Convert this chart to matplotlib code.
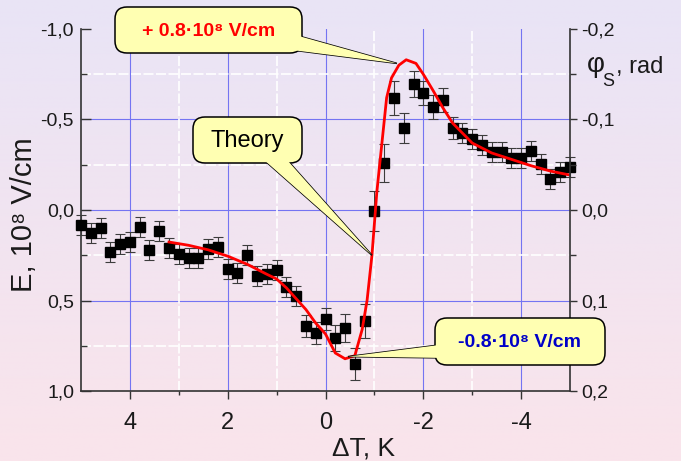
import numpy as np
import matplotlib
matplotlib.use('Agg')
import matplotlib.pyplot as plt
from matplotlib.patches import FancyBboxPatch, Polygon

plt.rcParams['font.family'] = ['Liberation Sans', 'DejaVu Sans']

# ---------------- data ----------------
dT = [5.0, 4.8, 4.6, 4.4, 4.2, 4.0, 3.8, 3.6, 3.4, 3.2, 3.0, 2.8, 2.6, 2.4, 2.2,
      2.0, 1.8, 1.6, 1.4, 1.2, 1.0, 0.8, 0.6, 0.4, 0.2, 0.0, -0.2, -0.4, -0.6,
      -0.8, -1.0, -1.2, -1.4, -1.6, -1.8, -2.0, -2.2, -2.4, -2.6, -2.8, -3.0,
      -3.2, -3.4, -3.6, -3.8, -4.0, -4.2, -4.4, -4.6, -4.8, -5.0]
E_exp = [0.083, 0.127, 0.100, 0.232, 0.188, 0.177, 0.094, 0.221, 0.116, 0.210,
         0.243, 0.265, 0.265, 0.215, 0.204, 0.326, 0.348, 0.249, 0.365, 0.354,
         0.331, 0.425, 0.475, 0.641, 0.680, 0.602, 0.707, 0.652, 0.851, 0.613,
         0.006, -0.260, -0.619, -0.453, -0.696, -0.646, -0.569, -0.608, -0.453,
         -0.425, -0.392, -0.359, -0.320, -0.320, -0.287, -0.287, -0.326, -0.254,
         -0.171, -0.210, -0.238]
E_err = [0.055] * 23 + [0.060, 0.060, 0.060, 0.070, 0.078, 0.090, 0.096, 0.110,
                        0.105, 0.094, 0.083, 0.074, 0.068, 0.066, 0.064, 0.060] + [0.055] * 12

dT_theory = [3.2, 2.8, 2.4, 2.0, 1.6, 1.2, 1.0, 0.8, 0.6, 0.4, 0.2, 0.0, -0.2,
             -0.4, -0.6, -0.75, -0.85, -0.95, -1.05, -1.15, -1.25, -1.35, -1.5,
             -1.65, -1.85, -2.0, -2.2, -2.4, -2.6, -2.8, -3.0, -3.4, -3.8, -4.2,
             -4.6, -5.0]
E_theory = [0.177, 0.195, 0.220, 0.255, 0.300, 0.355, 0.381, 0.430, 0.490, 0.550,
            0.625, 0.685, 0.790, 0.822, 0.805, 0.660, 0.500, 0.250, -0.100, -0.360,
            -0.620, -0.730, -0.800, -0.830, -0.810, -0.750, -0.660, -0.565, -0.480,
            -0.425, -0.370, -0.315, -0.280, -0.245, -0.215, -0.193]

x_ticks = [4, 2, 0, -2, -4]
x_ticklabels = ['4', '2', '0', '-2', '-4']
x_minor = [3, 1, -1, -3]
y_ticks = [-1.0, -0.5, 0.0, 0.5, 1.0]
y_ticklabels = ['-1,0', '-0,5', '0,0', '0,5', '1,0']
y_minor = [-0.75, -0.25, 0.25, 0.75]
phi_ticks = [-0.2, -0.1, 0.0, 0.1, 0.2]
phi_ticklabels = ['-0,2', '-0,1', '0,0', '0,1', '0,2']
phi_minor = [-0.15, -0.05, 0.05, 0.15]

callout_texts = ['+ 0.8\u00b710\u2078 V/cm', 'Theory', '-0.8\u00b710\u2078 V/cm']
callout_tips = [(-1.46, -0.81), (-0.95, 0.25), (-0.46, 0.81)]

# ---------------- figure ----------------
W, H = 681, 461
fig = plt.figure(figsize=(W / 100, H / 100), dpi=100)

bg = fig.add_axes([0, 0, 1, 1], zorder=-10)
g = np.linspace(0, 1, 256)[:, None, None]
top = np.array([233, 228, 246]) / 255
bot = np.array([250, 228, 235]) / 255
img = top[None, None, :] * (1 - g) + bot[None, None, :] * g
img = np.repeat(img, 2, axis=1)
bg.imshow(img, aspect='auto', extent=[0, 1, 0, 1], origin='upper')
bg.axis('off')

L, R, T, B = 81, 570, 29, 391
ax = fig.add_axes([L / W, 1 - B / H, (R - L) / W, (B - T) / H])
ax.set_facecolor('none')
ax.set_xlim(5, -5)
ax.set_ylim(1.0, -1.0)

grid_major = '#7474F2'
for xv in x_ticks:
    ax.axvline(xv, color=grid_major, lw=0.8, zorder=0)
for yv in y_ticks[1:-1]:
    ax.axhline(yv, color=grid_major, lw=0.8, zorder=0)
for xv in x_minor:
    ax.axvline(xv, color='white', lw=1.2, ls=(0, (6, 1.5)), zorder=0)
for yv in y_minor:
    ax.axhline(yv, color='white', lw=1.2, ls=(0, (6, 1.5)), zorder=0)

ax.errorbar(dT, E_exp, yerr=E_err, fmt='s', color='black', ms=7.8,
            ecolor='#3c3c3c', elinewidth=0.8, capsize=3.5, capthick=0.8,
            zorder=3, clip_on=False)
ax.plot(dT_theory, E_theory, color='#FF0000', lw=2.0, zorder=4)

ax.set_xticks(x_ticks)
ax.set_xticklabels(x_ticklabels)
ax.set_xticks(x_minor, minor=True)
ax.set_yticks(y_ticks)
ax.set_yticklabels(y_ticklabels)
ax.set_yticks(y_minor, minor=True)
spine_c = '#333333'
for s in ['top', 'right']:
    ax.spines[s].set_visible(False)
for s in ['left', 'bottom']:
    ax.spines[s].set_color(spine_c)
    ax.spines[s].set_linewidth(1.2)
ax.tick_params(axis='y', which='major', direction='in', length=7, width=1,
               pad=5, labelsize=14, colors=spine_c, labelcolor='#1a1a1a')
ax.tick_params(axis='y', which='minor', direction='in', length=4, width=1, colors=spine_c)
ax.tick_params(axis='x', which='major', direction='out', length=6, width=1,
               pad=9, labelsize=17, colors=spine_c, labelcolor='#1a1a1a')
ax.tick_params(axis='x', which='minor', direction='out', length=3, width=1, colors=spine_c)

ax2 = ax.twinx()
ax2.set_facecolor('none')
ax2.set_ylim(0.2, -0.2)
ax2.set_yticks(phi_ticks)
ax2.set_yticklabels(phi_ticklabels)
ax2.set_yticks(phi_minor, minor=True)
for s in ['top', 'left', 'bottom']:
    ax2.spines[s].set_visible(False)
ax2.spines['right'].set_color(spine_c)
ax2.spines['right'].set_linewidth(1.2)
ax2.tick_params(axis='y', which='major', direction='out', length=5, width=1,
                pad=3, labelsize=14, colors=spine_c, labelcolor='#1a1a1a')
ax2.tick_params(axis='y', which='minor', direction='out', length=4, width=1, colors=spine_c)

# ---------------- overlay (pixel coordinates) ----------------
ov = fig.add_axes([0, 0, 1, 1], zorder=10)
ov.set_xlim(0, W)
ov.set_ylim(H, 0)
ov.axis('off')
ov.set_facecolor('none')

fig.canvas.draw()


def data_to_px(x, y):
    d = ax.transData.transform((x, y))
    return d[0], H - d[1]


yellow = '#FFFFB2'


def callout(box, base, tip, text, color, weight, size, r=12):
    x0, y0, x1, y1 = box
    wedge = Polygon([base[0], tip, base[1]], closed=True, fc=yellow,
                    ec='black', lw=1.1, zorder=1)
    ov.add_patch(wedge)
    bp = FancyBboxPatch((x0 + r, y0 + r), (x1 - x0) - 2 * r, (y1 - y0) - 2 * r,
                        boxstyle=f'round,pad={r},rounding_size={r}',
                        fc=yellow, ec='black', lw=1.1, zorder=2)
    ov.add_patch(bp)
    wedge2 = Polygon([base[0], tip, base[1]], closed=True, fc=yellow,
                     ec='none', lw=0, zorder=3)
    ov.add_patch(wedge2)
    ov.text((x0 + x1) / 2, (y0 + y1) / 2 + 1, text, color=color,
            fontweight=weight, fontsize=size, ha='center', va='center', zorder=4)


t1 = data_to_px(*callout_tips[0])
t2 = data_to_px(*callout_tips[1])
t3 = data_to_px(*callout_tips[2])
callout((115, 7, 302, 53), [(288, 33), (284, 49)], t1, callout_texts[0],
        '#FF0000', 'bold', 14)
callout((193, 117, 302, 163), [(255, 152), (280, 152)], t2, callout_texts[1],
        'black', 'normal', 17)
callout((435, 318, 605, 365), [(447, 344), (447, 358)], t3, callout_texts[2],
        '#0000C8', 'bold', 14)

# axis labels
ov.text(24, 215, 'E, 10\u2078 V/cm', rotation=90, fontsize=21, ha='center',
        va='center', color='#1a1a1a')
ov.text(364, 455, '\u0394T, K', fontsize=19, ha='center', va='baseline',
        color='#1a1a1a')
ov.text(596, 65, '\u03c6', fontsize=20, ha='center', va='center', color='#1a1a1a')
ov.text(608, 81, 'S', fontsize=13, ha='center', va='center', color='#1a1a1a')
ov.text(616, 73, ', rad', fontsize=17, ha='left', va='baseline', color='#1a1a1a')

fig.savefig('out.png', dpi=100)
